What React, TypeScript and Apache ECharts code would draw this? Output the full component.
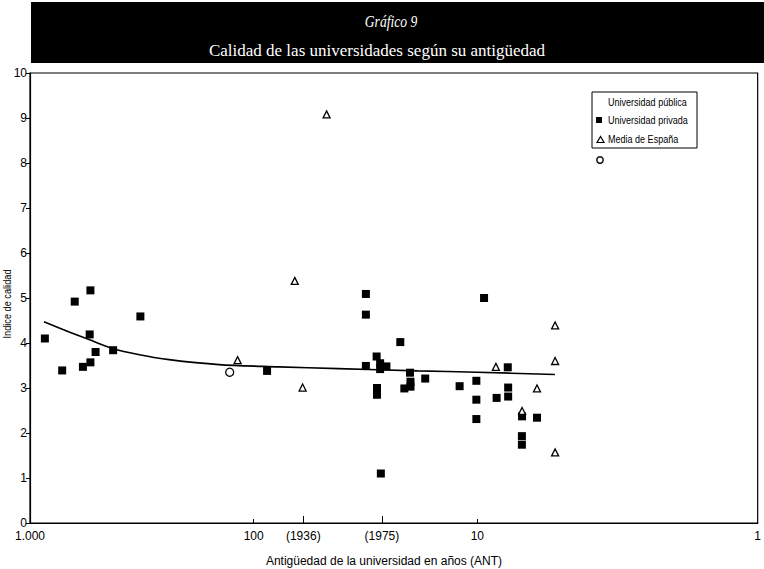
import React, { useEffect, useRef } from "react";
import * as echarts from "echarts";

// Universidad privada (filled squares): age in years (ANT) and quality index
const privadaAge = [858, 718, 631, 537, 541, 509, 580, 537, 425, 321, 87.1, 31.5, 31.5, 31.5, 22.1, 9.33, 28.2, 27.2, 27.2, 25.5, 20.0, 19.9, 19.9, 21.2, 17.1, 28.1, 28.1, 28.1, 27.0, 12.0, 10.1, 10.1, 10.1, 7.31, 7.28, 7.28, 8.2, 6.31, 5.41, 6.32, 6.32];
const privadaIdx = [4.10, 3.39, 4.92, 5.17, 4.19, 3.80, 3.47, 3.57, 3.84, 4.59, 3.38, 5.09, 4.63, 3.49, 4.02, 5.00, 3.70, 3.55, 3.42, 3.48, 3.34, 3.14, 3.03, 2.99, 3.21, 3.00, 2.92, 2.85, 1.10, 3.04, 3.16, 2.74, 2.31, 3.46, 3.01, 2.81, 2.78, 2.37, 2.34, 1.93, 1.74];

// Media de España (open triangles)
const mediaAge = [47.2, 65.5, 118, 60.4, 8.26, 5.41, 6.31, 4.49, 4.49, 4.49];
const mediaIdx = [9.08, 5.38, 3.62, 3.01, 3.47, 2.99, 2.49, 4.39, 3.60, 1.57];

// Universidad pública (open circle)
const publicaAge = [128];
const publicaIdx = [3.35];

// Fitted curve
const curveAge = [866, 664, 541, 428, 324, 239, 143, 77.4, 41.9, 18.5, 10, 4.5];
const curveIdx = [4.47, 4.24, 4.07, 3.88, 3.74, 3.63, 3.52, 3.47, 3.43, 3.38, 3.35, 3.30];

// X axis labels (ages in years where they sit on the axis)
const xLabelAges = [1000, 100, 60.0, 26.7, 10, 0.558];
const xLabelTexts = ["1.000", "100", "(1936)", "(1975)", "10", "1"];
const xSmallTickAges = [100, 10];
const xLongTickAges = [60.0, 26.7];

const xAxisMinAge = 0.558;
const xAxisMaxAge = 1000;

const legendTexts = ["Universidad pública", "Universidad privada", "Media de España"];

const lg = (v: number) => Math.log10(v);
const pairs = (a: number[], b: number[]) => a.map((x, i) => [lg(x), b[i]]);

export default function App() {
  const ref = useRef<HTMLDivElement>(null);
  useEffect(() => {
    document.body.style.margin = "0";
    const chart = echarts.init(ref.current!, null, { renderer: "svg" });
    const labelPos = xLabelAges.map(lg);
    const fmt = (v: number) => {
      let best = 0;
      let bd = Infinity;
      labelPos.forEach((p, i) => {
        const d = Math.abs(p - v);
        if (d < bd) {
          bd = d;
          best = i;
        }
      });
      return xLabelTexts[best];
    };
    const font = "Liberation Sans, Arial, sans-serif";
    chart.setOption({
      animation: false,
      backgroundColor: "#fff",
      grid: {
        left: 30,
        right: 2,
        top: 73,
        bottom: 46,
        show: true,
        borderColor: "#000",
        borderWidth: 1.2,
        backgroundColor: "transparent",
      },
      xAxis: [
        {
          type: "value",
          min: lg(xAxisMinAge),
          max: lg(xAxisMaxAge),
          inverse: true,
          axisLine: { show: true, onZero: false, lineStyle: { color: "#000", width: 1.2 } },
          axisTick: {
            show: true,
            inside: true,
            length: 4,
            customValues: xSmallTickAges.map(lg),
            lineStyle: { color: "#000", width: 1 },
          },
          axisLabel: {
            customValues: labelPos,
            formatter: fmt,
            color: "#000",
            fontSize: 12,
            lineHeight: 10,
            fontFamily: font,
            margin: 8,
            hideOverlap: false,
          },
          splitLine: { show: false },
        },
        {
          type: "value",
          min: lg(xAxisMinAge),
          max: lg(xAxisMaxAge),
          inverse: true,
          position: "bottom",
          axisLine: { show: false, onZero: false },
          axisTick: {
            show: true,
            inside: true,
            length: 7,
            customValues: xLongTickAges.map(lg),
            lineStyle: { color: "#000", width: 1 },
          },
          axisLabel: { show: false },
          splitLine: { show: false },
        },
      ],
      yAxis: {
        type: "value",
        min: 0,
        max: 10,
        interval: 1,
        axisLine: { show: true, onZero: false, lineStyle: { color: "#000", width: 1.2 } },
        axisTick: { show: true, inside: false, length: 4, lineStyle: { color: "#000" } },
        axisLabel: { color: "#000", fontSize: 12, lineHeight: 10, fontFamily: font, margin: 3 },
        splitLine: { show: false },
      },
      series: [
        {
          name: "Curva",
          type: "line",
          data: pairs(curveAge, curveIdx),
          smooth: 0.3,
          showSymbol: false,
          lineStyle: { color: "#000", width: 1.6 },
          z: 1,
        },
        {
          name: legendTexts[1],
          type: "scatter",
          symbol: "rect",
          symbolSize: 8,
          data: pairs(privadaAge, privadaIdx),
          itemStyle: { color: "#000", opacity: 1 },
          z: 3,
        },
        {
          name: legendTexts[2],
          type: "scatter",
          symbol: "triangle",
          symbolSize: 7,
          data: pairs(mediaAge, mediaIdx),
          itemStyle: { color: "#fff", borderColor: "#000", borderWidth: 1.3, opacity: 1 },
          z: 3,
        },
        {
          name: legendTexts[0],
          type: "scatter",
          symbol: "circle",
          symbolSize: 8,
          data: pairs(publicaAge, publicaIdx),
          itemStyle: { color: "#fff", borderColor: "#000", borderWidth: 1.3, opacity: 1 },
          z: 3,
        },
      ],
      graphic: [
        { type: "rect", shape: { x: 31, y: 2, width: 733, height: 61 }, style: { fill: "#000" } },
        {
          type: "text",
          x: 391,
          y: 22,
          scaleX: 0.85,
          style: {
            text: "Gráfico 9",
            fill: "#fff",
            fontFamily: "Liberation Serif, serif",
            fontStyle: "italic",
            fontSize: 16,
            textAlign: "center",
            textVerticalAlign: "middle",
          },
        },
        {
          type: "text",
          x: 377,
          y: 50,
          style: {
            text: "Calidad de las universidades según su antigüedad",
            fill: "#fff",
            fontFamily: "Liberation Serif, serif",
            fontSize: 17,
            textAlign: "center",
            textVerticalAlign: "middle",
          },
        },
        {
          type: "text",
          x: 7,
          y: 304,
          rotation: Math.PI / 2,
          scaleX: 0.8,
          style: {
            text: "Indice de calidad",
            fill: "#000",
            fontFamily: font,
            fontSize: 11.5,
            textAlign: "center",
            textVerticalAlign: "middle",
          },
        },
        {
          type: "text",
          x: 384,
          y: 561,
          style: {
            text: "Antigüedad de la universidad en años (ANT)",
            fill: "#000",
            fontFamily: font,
            fontSize: 12,
            textAlign: "center",
            textVerticalAlign: "middle",
          },
        },
        {
          type: "rect",
          shape: { x: 592, y: 92, width: 105, height: 56 },
          style: { fill: "#fff", stroke: "#000", lineWidth: 1 },
          z: 10,
        },
        ...legendTexts.map((t, i) => ({
          type: "text",
          x: 608,
          y: [102, 120, 139][i],
          scaleX: 0.86,
          z: 11,
          style: {
            text: t,
            fill: "#000",
            fontFamily: font,
            fontSize: 10.5,
            textAlign: "left",
            textVerticalAlign: "middle",
          },
        })),
        { type: "rect", shape: { x: 596, y: 117, width: 6, height: 6 }, style: { fill: "#000" }, z: 11 },
        {
          type: "polygon",
          shape: { points: [[600.5, 136.5], [597, 142.5], [604, 142.5]] },
          style: { fill: "#fff", stroke: "#000", lineWidth: 1.2 },
          z: 11,
        },
        {
          type: "circle",
          shape: { cx: 600, cy: 160, r: 3.2 },
          style: { fill: "#fff", stroke: "#000", lineWidth: 1.4 },
          z: 11,
        },
      ],
    });
    return () => chart.dispose();
  }, []);
  return (
    <div
      ref={ref}
      style={{ position: "fixed", left: 0, top: 0, width: 764, height: 569, background: "#fff" }}
    />
  );
}
